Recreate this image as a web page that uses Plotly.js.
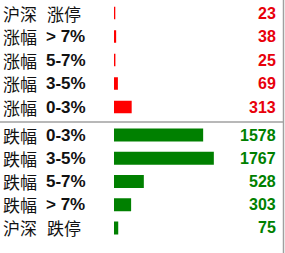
<!DOCTYPE html>
<html>
<head>
<meta charset="utf-8">
<script src="https://cdn.plot.ly/plotly-3.0.1.min.js"></script>
<style>html,body{margin:0;padding:0;background:#fff;}#chart{width:285px;height:253px;}</style>
</head>
<body>
<div id="chart"></div>
<script>
// Upper block (rises)
var upNames = ['沪深', '涨幅', '涨幅', '涨幅', '涨幅'];
var upRanges = ['涨停', '> 7%', '5-7%', '3-5%', '0-3%'];
var upValues = [23, 38, 25, 69, 313];
// Lower block (falls)
var downNames = ['跌幅', '跌幅', '跌幅', '跌幅', '沪深'];
var downRanges = ['0-3%', '3-5%', '5-7%', '> 7%', '跌停'];
var downValues = [1578, 1767, 528, 303, 75];

var RED = '#ff0000', RED_TXT = '#e8000b', GREEN = '#008000', GREEN_TXT = '#008000';

var upCats = upValues.map(function(_, i){ return 'u' + i; });
var downCats = downValues.map(function(_, i){ return 'd' + i; });

var traces = [
  {type: 'bar', orientation: 'h', x: upValues, y: upCats, xaxis: 'x', yaxis: 'y',
   marker: {color: RED}, width: 0.53, hoverinfo: 'skip'},
  {type: 'bar', orientation: 'h', x: downValues, y: downCats, xaxis: 'x', yaxis: 'y2',
   marker: {color: GREEN}, width: 0.56, hoverinfo: 'skip'}
];

var annotations = [];
function addRows(names, ranges, values, cats, yref, color) {
  for (var i = 0; i < values.length; i++) {
    var isCJK = /[\u4e00-\u9fff]/.test(ranges[i]);
    annotations.push({xref: 'paper', yref: yref, x: 0.005, y: cats[i], xanchor: 'left', yanchor: 'middle',
      text: names[i], showarrow: false,
      font: {family: '"Noto Sans CJK SC", "DejaVu Sans", sans-serif', size: 17, color: '#111'}});
    annotations.push({xref: 'paper', yref: yref, x: (isCJK ? 45 : 44) / 285, y: cats[i], xanchor: 'left', yanchor: 'middle',
      text: isCJK ? ranges[i] : '<b>' + ranges[i] + '</b>', showarrow: false,
      font: isCJK ? {family: '"Noto Sans CJK SC", "DejaVu Sans", sans-serif', size: 17, color: '#111'}
                  : {family: '"Liberation Sans", Arial, sans-serif', size: 17, color: '#111'}});
    annotations.push({xref: 'paper', yref: yref, x: 278 / 285, y: cats[i], xanchor: 'right', yanchor: 'middle',
      text: '<b>' + values[i] + '</b>', showarrow: false,
      font: {family: '"Liberation Sans", Arial, sans-serif', size: 16, color: color}});
  }
}
addRows(upNames, upRanges, upValues, upCats, 'y', RED_TXT);
addRows(downNames, downRanges, downValues, downCats, 'y2', GREEN_TXT);

var layout = {
  width: 285, height: 253,
  margin: {l: 0, r: 0, t: 0, b: 0, pad: 0},
  paper_bgcolor: '#fff', plot_bgcolor: 'rgba(0,0,0,0)',
  showlegend: false,
  xaxis: {domain: [114 / 285, 1], range: [0, 171 / 0.0565], visible: false, fixedrange: true},
  yaxis: {domain: [1 - 118.8 / 253, 1 - 1.3 / 253], type: 'category', categoryarray: upCats,
          range: [4.5, -0.5], visible: false, fixedrange: true},
  yaxis2: {domain: [1 - 239.6 / 253, 1 - 123.4 / 253], type: 'category', categoryarray: downCats,
           range: [4.5, -0.5], visible: false, fixedrange: true, anchor: 'x'},
  annotations: annotations,
  shapes: [
    {type: 'line', xref: 'paper', yref: 'paper', x0: 0, x1: 284 / 285, y0: 1 - 122 / 253, y1: 1 - 122 / 253,
     line: {color: '#a0a0a0', width: 1.5}},
    {type: 'line', xref: 'paper', yref: 'paper', x0: 283.5 / 285, x1: 283.5 / 285, y0: 0, y1: 1,
     line: {color: '#a0a0a0', width: 1.5}}
  ]
};

Plotly.newPlot('chart', traces, layout, {displayModeBar: false, staticPlot: true});
</script>
</body>
</html>
